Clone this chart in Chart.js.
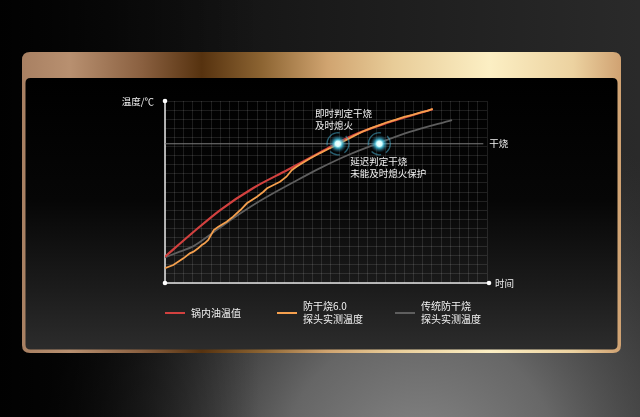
<!DOCTYPE html>
<html>
<head>
<meta charset="utf-8">
<script src="https://cdn.jsdelivr.net/npm/chart.js@4.4.1/dist/chart.umd.min.js"></script>
<style>
html,body{margin:0;padding:0;background:#111;overflow:hidden;}
canvas{display:block;}
</style>
</head>
<body>
<canvas id="c" width="640" height="417"></canvas>
<script>
// ---- data (time units 0..350, temperature units 0..200) ----
const seriesNames = ['锅内油温值', ['防干烧6.0', '探头实测温度'], ['传统防干烧', '探头实测温度']];
const redX = [0, 29, 60, 96, 133, 168, 204, 241, 277, 291];
const redY = [28.9, 54.4, 80.2, 104.4, 124.2, 143.2, 162.1, 175.8, 186.8, 190.9];
const orangeX = [0, 9, 20, 27, 31, 36, 40, 43, 47, 51, 53, 58, 67, 74, 82, 89, 100, 107, 111, 118, 125, 132, 138, 143, 149, 158, 168, 178, 187, 197, 206, 215, 224, 233, 242, 251, 260, 269, 278, 285, 291];
const orangeY = [16.2, 19.8, 27.1, 32.6, 34.4, 38.1, 41.8, 43.6, 47.3, 54.6, 58.2, 61.9, 67.4, 72.9, 80.2, 87.6, 94.8, 100.3, 104.1, 107.7, 111.3, 116.8, 124.2, 127.8, 131.5, 137, 142.5, 147.5, 151.6, 157.2, 162.0, 166.5, 170.1, 173.5, 176.9, 179.5, 182.6, 184.8, 187.6, 189.2, 191.3];
const grayX = [0, 16, 31, 49, 67, 85, 103, 121, 139, 168, 201, 233, 266, 312];
const grayY = [28.2, 34.4, 40.5, 53, 66, 78.5, 90, 100.5, 110.5, 126, 141.5, 154, 166, 179];
const dryX = [0, 346];
const dryY = [153, 153];
const dryLabel = '干烧';
const markerX = [188, 233];
const markerY = [153, 153];
const markerNotes = [['即时判定干烧', '及时熄火'], ['延迟判定干烧', '未能及时熄火保护']];
const yTitle = '温度/℃';
const xTitle = '时间';
const xMax = 350, yMax = 200, gridStep = 10;

const colors = ['#d2413f', '#f5a04e', '#5e5e5e'];
const toPts = (xs, ys) => xs.map((x, i) => ({x: x, y: ys[i]}));
const FONT = '"Noto Sans CJK SC", "Noto Sans", sans-serif';

const GOLD = [[0,'#a88062'],[0.08,'#b89070'],[0.2,'#8a6040'],[0.3,'#56320f'],[0.4,'#8c6432'],[0.51,'#d0a470'],[0.62,'#e8cc98'],[0.78,'#fcefc4'],[0.92,'#ecd2a0'],[1,'#d0a272']];

function rr(ctx, x, y, w, h, r) {
  ctx.beginPath();
  ctx.moveTo(x + r, y);
  ctx.lineTo(x + w - r, y);
  ctx.quadraticCurveTo(x + w, y, x + w, y + r);
  ctx.lineTo(x + w, y + h - r);
  ctx.quadraticCurveTo(x + w, y + h, x + w - r, y + h);
  ctx.lineTo(x + r, y + h);
  ctx.quadraticCurveTo(x, y + h, x, y + h - r);
  ctx.lineTo(x, y + r);
  ctx.quadraticCurveTo(x, y, x + r, y);
  ctx.closePath();
}

const bgPlugin = {
  id: 'bg',
  beforeDraw(chart) {
    const ctx = chart.ctx, W = chart.width, H = chart.height;
    ctx.save();
    let g = ctx.createLinearGradient(0, 0, W, 0);
    g.addColorStop(0, '#080808'); g.addColorStop(0.5, '#1a1a1a'); g.addColorStop(1, '#2a2a2a');
    ctx.fillStyle = g; ctx.fillRect(0, 0, W, H);
    let rg = ctx.createRadialGradient(420, 470, 10, 420, 470, 380);
    rg.addColorStop(0, 'rgba(135,135,135,1)');
    rg.addColorStop(0.35, 'rgba(115,115,115,0.85)');
    rg.addColorStop(1, 'rgba(60,60,60,0)');
    ctx.fillStyle = rg; ctx.fillRect(0, 0, W, H);
    let lg = ctx.createLinearGradient(0, 0, 260, 0);
    lg.addColorStop(0, 'rgba(0,0,0,0.85)'); lg.addColorStop(1, 'rgba(0,0,0,0)');
    ctx.fillStyle = lg; ctx.fillRect(0, 0, W, H);

    // frame
    const fx = 22, fy = 52, fw = 599, fh = 301;
    let gg = ctx.createLinearGradient(fx, 0, fx + fw, 0);
    GOLD.forEach(s => gg.addColorStop(s[0], s[1]));
    rr(ctx, fx, fy, fw, fh, 8);
    ctx.fillStyle = gg; ctx.fill();
    // interior
    let ig = ctx.createLinearGradient(0, 78, 0, fy + fh - 3);
    ig.addColorStop(0, '#000000'); ig.addColorStop(0.45, '#060606'); ig.addColorStop(0.78, '#1c1c1c'); ig.addColorStop(1, '#2c2c2c');
    rr(ctx, fx + 3.5, 78, fw - 7, fy + fh - 3.5 - 78, 5);
    ctx.fillStyle = ig; ctx.fill();
    ctx.restore();
  },
  beforeDatasetsDraw(chart) {
    const ctx = chart.ctx, xs = chart.scales.x, ys = chart.scales.y;
    const x0 = xs.getPixelForValue(0), y0 = ys.getPixelForValue(0);
    const xe = xs.getPixelForValue(xMax) + 2, ye = ys.getPixelForValue(yMax);
    ctx.save();
    ctx.strokeStyle = '#e6e6e6'; ctx.lineWidth = 1.5;
    ctx.beginPath(); ctx.moveTo(x0, ye); ctx.lineTo(x0, y0); ctx.lineTo(xe, y0); ctx.stroke();
    ctx.fillStyle = '#ffffff';
    [[x0, ye], [x0, y0], [xe, y0]].forEach(p => { ctx.beginPath(); ctx.arc(p[0], p[1], 2.3, 0, Math.PI * 2); ctx.fill(); });
    ctx.font = '9.5px ' + FONT; ctx.fillStyle = '#f2f2f2';
    ctx.textBaseline = 'middle';
    ctx.textAlign = 'right'; ctx.fillText(yTitle, x0 - 11, ye);
    ctx.textAlign = 'left'; ctx.fillText(xTitle, xe + 6, y0);
    ctx.fillText(dryLabel, xs.getPixelForValue(dryX[1]) + 6, ys.getPixelForValue(dryY[1]));
    ctx.restore();
  },
  afterDatasetsDraw(chart) {
    const ctx = chart.ctx, xs = chart.scales.x, ys = chart.scales.y;
    ctx.save();
    // markers
    markerX.forEach((mx, i) => {
      const px = xs.getPixelForValue(mx), py = ys.getPixelForValue(markerY[i]);
      let g = ctx.createRadialGradient(px, py, 0, px, py, 9);
      g.addColorStop(0, 'rgba(255,255,255,1)');
      g.addColorStop(0.3, 'rgba(210,255,255,1)');
      g.addColorStop(0.5, 'rgba(70,200,230,0.8)');
      g.addColorStop(1, 'rgba(20,90,120,0)');
      ctx.fillStyle = g; ctx.beginPath(); ctx.arc(px, py, 9, 0, Math.PI * 2); ctx.fill();
      ctx.strokeStyle = 'rgba(70,170,200,0.55)'; ctx.lineWidth = 1.3;
      ctx.beginPath(); ctx.arc(px, py, 11, Math.PI * 0.95, Math.PI * 1.55); ctx.stroke();
      ctx.beginPath(); ctx.arc(px, py, 11, Math.PI * 1.75, Math.PI * 2.3); ctx.stroke();
      ctx.beginPath(); ctx.arc(px, py, 11, Math.PI * 0.45, Math.PI * 0.75); ctx.stroke();
    });
    // notes
    ctx.font = '9.5px ' + FONT; ctx.fillStyle = '#f2f2f2'; ctx.textBaseline = 'middle'; ctx.textAlign = 'left';
    const m0x = xs.getPixelForValue(markerX[0]), m0y = ys.getPixelForValue(markerY[0]);
    ctx.fillText(markerNotes[0][0], m0x - 23, m0y - 30);
    ctx.fillText(markerNotes[0][1], m0x - 23, m0y - 18);
    const m1x = xs.getPixelForValue(markerX[1]), m1y = ys.getPixelForValue(markerY[1]);
    ctx.fillText(markerNotes[1][0], m1x - 29, m1y + 18);
    ctx.fillText(markerNotes[1][1], m1x - 29, m1y + 30);
    // legend
    const legX = [165, 277, 395], legY = 313;
    ctx.font = '10px ' + FONT;
    seriesNames.forEach((nm, i) => {
      ctx.strokeStyle = colors[i]; ctx.lineWidth = 2;
      ctx.beginPath(); ctx.moveTo(legX[i], legY); ctx.lineTo(legX[i] + 20, legY); ctx.stroke();
      ctx.fillStyle = '#f2f2f2';
      if (Array.isArray(nm)) {
        ctx.fillText(nm[0], legX[i] + 26, legY - 7);
        ctx.fillText(nm[1], legX[i] + 26, legY + 6);
      } else {
        ctx.fillText(nm, legX[i] + 26, legY);
      }
    });
    ctx.restore();
  }
};

new Chart(document.getElementById('c'), {
  type: 'line',
  data: {
    datasets: [
      {label: 'dry', data: toPts(dryX, dryY), borderColor: '#7c7c7c', borderWidth: 1, pointRadius: 0, tension: 0, order: 4},
      {label: '传统防干烧探头实测温度', data: toPts(grayX, grayY), borderColor: colors[2], borderWidth: 1.8, pointRadius: 0, cubicInterpolationMode: 'monotone', order: 3},
      {label: '锅内油温值', data: toPts(redX, redY), borderColor: colors[0], borderWidth: 2.2, pointRadius: 0, cubicInterpolationMode: 'monotone', order: 2},
      {label: '防干烧6.0探头实测温度', data: toPts(orangeX, orangeY), borderColor: colors[1], borderWidth: 1.8, pointRadius: 0, tension: 0, order: 1}
    ]
  },
  options: {
    responsive: false,
    animation: false,
    devicePixelRatio: 1,
    layout: {padding: {left: 165, right: 153, top: 101, bottom: 134}},
    plugins: {legend: {display: false}, tooltip: {enabled: false}},
    scales: {
      x: {type: 'linear', min: 0, max: xMax,
          ticks: {display: false, stepSize: gridStep},
          grid: {color: 'rgba(255,255,255,0.11)', lineWidth: 1, drawTicks: false},
          border: {display: false}},
      y: {type: 'linear', min: 0, max: yMax,
          ticks: {display: false, stepSize: gridStep},
          grid: {color: 'rgba(255,255,255,0.11)', lineWidth: 1, drawTicks: false},
          border: {display: false}}
    }
  },
  plugins: [bgPlugin]
});
</script>
</body>
</html>
